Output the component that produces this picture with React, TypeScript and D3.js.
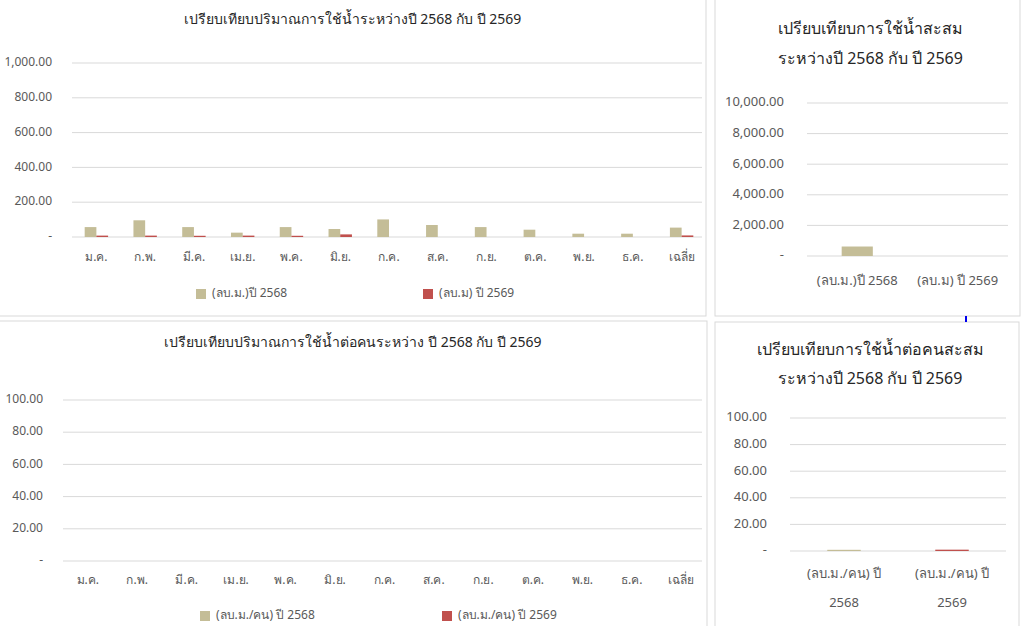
import React from 'react';
import * as d3 from 'd3';

// monthly categories
const months = ['ม.ค.', 'ก.พ.', 'มี.ค.', 'เม.ย.', 'พ.ค.', 'มิ.ย.', 'ก.ค.', 'ส.ค.', 'ก.ย.', 'ต.ค.', 'พ.ย.', 'ธ.ค.', 'เฉลี่ย'];

// water volume (ลบ.ม.)
const volume2568 = [57, 96, 57, 25, 57, 46, 101, 69, 57, 42, 19, 19, 54];
const volume2569 = [8, 8, 7, 8, 7, 15, 0, 0, 0, 0, 0, 0, 9];
const volumeTicks = [0, 200, 400, 600, 800, 1000];

// per-person volume (ลบ.ม./คน) - nothing visible at this scale
const perPerson2568 = [0, 0, 0, 0, 0, 0, 0, 0, 0, 0, 0, 0, 0];
const perPerson2569 = [0, 0, 0, 0, 0, 0, 0, 0, 0, 0, 0, 0, 0];
const perPersonTicks = [0, 20, 40, 60, 80, 100];

// cumulative
const totalLabels = ['(ลบ.ม.)ปี 2568', '(ลบ.ม) ปี 2569'];
const totalVolume = [620, 0];
const totalTicks = [0, 2000, 4000, 6000, 8000, 10000];

const perPersonTotalLabels = [['(ลบ.ม./คน) ปี', '2568'], ['(ลบ.ม./คน) ปี', '2569']];
const perPersonTotal = [0.9, 1.0];

const legendVolume = ['(ลบ.ม.)ปี 2568', '(ลบ.ม) ปี 2569'];
const legendPerPerson = ['(ลบ.ม./คน) ปี 2568', '(ลบ.ม./คน) ปี 2569'];

const COLORS = ['#c4bd97', '#c0504d'];
const FONT = 'Tahoma, "Noto Sans", "DejaVu Sans", sans-serif';
const GRID = '#d9d9d9';
const AXIS_TEXT = '#595959';
const TITLE_TEXT = '#262626';

const fmt = (v: number) => (v === 0 ? '-' : d3.format(',.2f')(v));

interface MonthlyProps {
  panel: [number, number, number, number];
  title: string;
  titleY: number;
  plot: { left: number; right: number; top: number; bottom: number };
  labelRight: number;
  ticks: number[];
  a: number[];
  b: number[];
  catY: number;
  legend: string[];
  legendX: number[];
  legendY: number;
}

const MonthlyChart: React.FC<MonthlyProps> = ({ panel, title, titleY, plot, labelRight, ticks, a, b, catY, legend, legendX, legendY }) => {
  const x = d3.scaleBand<string>().domain(months).range([plot.left, plot.right]);
  const inner = d3.scaleBand<number>().domain([0, 1]).range([0, x.bandwidth() * 0.48]);
  const y = d3.scaleLinear().domain([0, d3.max(ticks) as number]).range([plot.bottom, plot.top]);
  const off = (x.bandwidth() - x.bandwidth() * 0.48) / 2;
  const series = [a, b];
  return (
    <g>
      <rect x={panel[0]} y={panel[1]} width={panel[2]} height={panel[3]} fill="#fff" stroke={GRID} />
      <text x={panel[0] + panel[2] / 2} y={titleY} textAnchor="middle" dominantBaseline="middle" fontSize={14} fill={TITLE_TEXT}>{title}</text>
      {ticks.map(t => (
        <g key={t}>
          <line x1={plot.left} x2={plot.right - 4} y1={y(t)} y2={y(t)} stroke={GRID} strokeWidth={1} />
          <text x={labelRight} y={y(t)} textAnchor="end" dominantBaseline="middle" fontSize={12} fill={AXIS_TEXT}>{fmt(t)}</text>
        </g>
      ))}
      {series.map((s, si) => s.map((v, i) => (
        <rect key={`${si}-${i}`} x={(x(months[i]) as number) + off + (inner(si) as number)} y={y(v)}
          width={inner.bandwidth()} height={y(0) - y(v)} fill={COLORS[si]} />
      )))}
      {months.map(m => (
        <text key={m} x={(x(m) as number) + x.bandwidth() / 2} y={catY} textAnchor="middle" dominantBaseline="middle" fontSize={12} fill={AXIS_TEXT}>{m}</text>
      ))}
      {legend.map((l, i) => (
        <g key={l}>
          <rect x={legendX[i]} y={legendY - 5} width={10} height={10} fill={COLORS[i]} />
          <text x={legendX[i] + 16} y={legendY} dominantBaseline="middle" fontSize={12} fill={AXIS_TEXT}>{l}</text>
        </g>
      ))}
    </g>
  );
};

interface TotalProps {
  panel: [number, number, number, number];
  title: string[];
  titleY: number[];
  plot: { left: number; right: number; top: number; bottom: number };
  labelRight: number;
  ticks: number[];
  values: number[];
  labels: string[][];
  catY: number[];
}

const TotalChart: React.FC<TotalProps> = ({ panel, title, titleY, plot, labelRight, ticks, values, labels, catY }) => {
  const cats = labels.map(l => l.join(' '));
  const x = d3.scaleBand<string>().domain(cats).range([plot.left, plot.right]);
  const y = d3.scaleLinear().domain([0, d3.max(ticks) as number]).range([plot.bottom, plot.top]);
  const bw = x.bandwidth() * 0.31;
  return (
    <g>
      <rect x={panel[0]} y={panel[1]} width={panel[2]} height={panel[3]} fill="#fff" stroke={GRID} />
      {title.map((t, i) => (
        <text key={t} x={panel[0] + panel[2] / 2 + 3} y={titleY[i]} textAnchor="middle" dominantBaseline="middle" fontSize={16} fill={TITLE_TEXT}>{t}</text>
      ))}
      {ticks.map(t => (
        <g key={t}>
          <line x1={plot.left} x2={plot.right} y1={y(t)} y2={y(t)} stroke={GRID} strokeWidth={1} />
          <text x={labelRight} y={y(t)} textAnchor="end" dominantBaseline="middle" fontSize={13} fill={AXIS_TEXT}>{fmt(t)}</text>
        </g>
      ))}
      {values.map((v, i) => (
        <rect key={i} x={(x(cats[i]) as number) + (x.bandwidth() - bw) / 2} y={y(v)}
          width={bw} height={y(0) - y(v)} fill={COLORS[i]} />
      ))}
      {labels.map((l, i) => l.map((line, j) => (
        <text key={`${i}-${j}`} x={(x(cats[i]) as number) + x.bandwidth() / 2} y={catY[j]} textAnchor="middle" dominantBaseline="middle" fontSize={13} fill={AXIS_TEXT}>{line}</text>
      )))}
    </g>
  );
};

export default function App() {
  return (
    <svg width={1024} height={626} style={{ position: 'absolute', left: 0, top: 0, fontFamily: FONT, background: '#fff' }}>
      <rect width={1024} height={626} fill="#fff" />
      <MonthlyChart
        panel={[-1, -1, 707, 317]}
        title="เปรียบเทียบปริมาณการใช้น้ำระหว่างปี 2568 กับ ปี 2569"
        titleY={20}
        plot={{ left: 72, right: 706, top: 63, bottom: 237 }}
        labelRight={52}
        ticks={volumeTicks}
        a={volume2568}
        b={volume2569}
        catY={258}
        legend={legendVolume}
        legendX={[196, 423]}
        legendY={294}
      />
      <MonthlyChart
        panel={[-1, 321, 708, 310]}
        title="เปรียบเทียบปริมาณการใช้น้ำต่อคนระหว่าง ปี 2568 กับ ปี 2569"
        titleY={343}
        plot={{ left: 63, right: 706, top: 400, bottom: 561 }}
        labelRight={43}
        ticks={perPersonTicks}
        a={perPerson2568}
        b={perPerson2569}
        catY={581}
        legend={legendPerPerson}
        legendX={[200, 442]}
        legendY={616}
      />
      <TotalChart
        panel={[715, -1, 305, 317]}
        title={['เปรียบเทียบการใช้น้ำสะสม', 'ระหว่างปี 2568 กับ ปี 2569']}
        titleY={[30, 60]}
        plot={{ left: 807, right: 1008, top: 103, bottom: 256 }}
        labelRight={784}
        ticks={totalTicks}
        values={totalVolume}
        labels={totalLabels.map(l => [l])}
        catY={[282]}
      />
      <TotalChart
        panel={[715, 322, 304, 310]}
        title={['เปรียบเทียบการใช้น้ำต่อคนสะสม', 'ระหว่างปี 2568 กับ ปี 2569']}
        titleY={[351, 380]}
        plot={{ left: 790, right: 1006, top: 418, bottom: 551 }}
        labelRight={767}
        ticks={perPersonTicks}
        values={perPersonTotal}
        labels={perPersonTotalLabels}
        catY={[575, 604]}
      />
      <line x1={966} x2={966} y1={316} y2={322} stroke="#0000ee" strokeWidth={2} />
    </svg>
  );
}
